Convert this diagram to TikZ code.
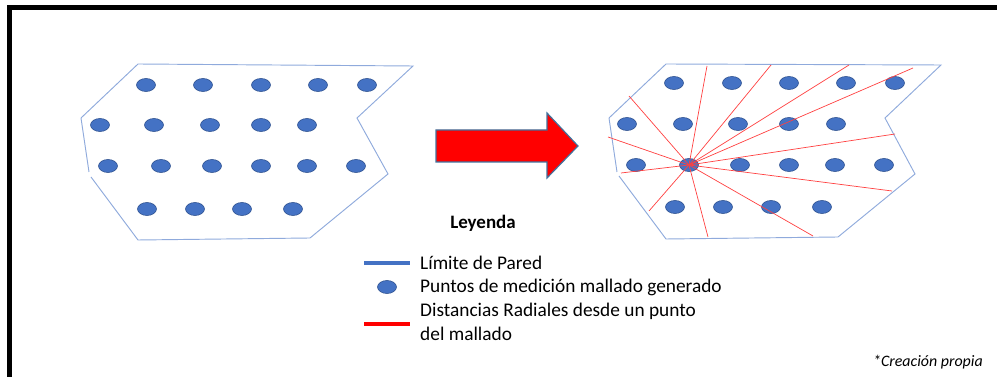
\documentclass[tikz,border=0pt]{standalone}
\usepackage{fontspec}
\setmainfont{Carlito}
\usetikzlibrary{shapes.geometric}
\definecolor{wallblue}{HTML}{8FAADC}
\definecolor{dotblue}{HTML}{4472C4}
\definecolor{dotedge}{HTML}{2F528F}
\definecolor{arrowedge}{HTML}{41719C}

\begin{document}
\begin{tikzpicture}[x=0.03cm, y=-0.03cm,
  dot/.style={ellipse, fill=dotblue, draw=dotedge, line width=0.5pt, minimum width=0.57cm, minimum height=0.39cm, inner sep=0pt},
  wall/.style={wallblue, line width=0.8pt},
  ray/.style={red!75, line width=0.6pt},
  legtext/.style={anchor=west, align=left, inner sep=0pt, font=\fontsize{16.5}{20.4}\selectfont}]
\useasboundingbox (0,0) rectangle (997,377);
% frame
\draw[line width=3.5pt] (9.5,377) -- (9.5,7.5) -- (997,7.5);

% left wall
\coordinate (L1) at (138,64);
\coordinate (L2) at (413,66);
\coordinate (L3) at (357,118);
\coordinate (L4) at (388,174);
\coordinate (L5) at (310,238);
\coordinate (L6) at (138,240);
\coordinate (L7) at (91,177);
\coordinate (L8) at (89,172);
\coordinate (L9) at (81,118);
\draw[wall] (L9) -- (L1) -- (L2) -- (L3) -- (L4) -- (L5) -- (L6) -- (L7);
\draw[wall] (L8) -- (L9);

% left grid
\foreach \x/\y [count=\i] in {146/85, 203/85, 261/85, 318/85, 367/85,
    100/125, 154/125, 210/125, 261/125, 307/125,
    108/166, 161/166, 212/166, 261/166, 307/166, 356/166,
    147/209, 195/209, 242/209, 293/209}
  \node[dot] (a\i) at (\x,\y) {};

% arrow
\draw[fill=red, draw=arrowedge, line width=1pt] (436,130) -- (547,130) -- (547,113) -- (578,146)
  -- (547,178) -- (547,162) -- (436,162) -- cycle;

% right wall
\coordinate (R1) at (666,64);
\coordinate (R2) at (941,65);
\coordinate (R3) at (885,118);
\coordinate (R4) at (915,174);
\coordinate (R5) at (838,237);
\coordinate (R6) at (666,239);
\coordinate (R7) at (619,176);
\coordinate (R8) at (617,172);
\coordinate (R9) at (609,118);
\draw[wall] (R9) -- (R1) -- (R2) -- (R3) -- (R4) -- (R5) -- (R6) -- (R7);
\draw[wall] (R8) -- (R9);

% right grid
\foreach \x/\y [count=\i] in {674/83, 732/83, 789/83, 846/83, 895/83,
    627/124, 683/124, 738/124, 789/124, 836/124,
    636/165, 740/165, 789/165, 835/165, 884/165,
    675/207, 723/207, 771/207, 822/207}
  \node[dot] (b\i) at (\x,\y) {};
\node[dot] (c) at (689,165) {};

% radial distances
\coordinate (e1) at (707,66);
\coordinate (e2) at (771,65);
\coordinate (e3) at (849,65);
\coordinate (e4) at (913,68);
\coordinate (e5) at (895,134);
\coordinate (e6) at (892,191);
\coordinate (e7) at (813,236);
\coordinate (e8) at (708,237);
\coordinate (e9) at (649,211);
\coordinate (e10) at (621,173);
\coordinate (e11) at (608,137);
\coordinate (e12) at (629,96);
\foreach \p in {e1,e2,e3,e4,e5,e6,e7,e8,e9,e10,e11,e12}
  \draw[ray] (c.center) -- (\p);

% legend
\node[font=\bfseries\fontsize{16.2}{18}\selectfont] (leg) at (483,223) {Leyenda};
\coordinate (k1) at (364,263);
\coordinate (k2) at (410,263);
\draw[dotblue, line width=3pt] (k1) -- (k2);
\node[legtext] (t1) at (420,263) {Límite de Pared};
\node[dot] (k3) at (387,287) {};
\node[legtext] (t2) at (420,287) {Puntos de medición mallado generado};
\coordinate (k4) at (364,324);
\coordinate (k5) at (410,324);
\draw[red, line width=3pt] (k4) -- (k5);
\node[legtext] (t3) at (420,322) {Distancias Radiales desde un punto\\del mallado};

\node[anchor=east, inner sep=0pt, font=\itshape\fontsize{13.6}{15}\selectfont] (src) at (983,362) {*Creación propia};
\end{tikzpicture}
\end{document}
